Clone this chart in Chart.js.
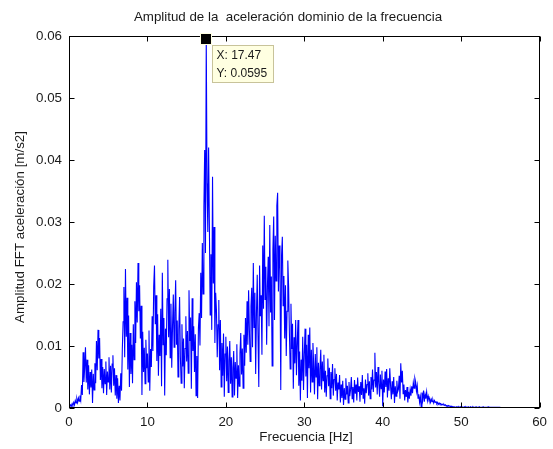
<!DOCTYPE html>
<html>
<head>
<meta charset="utf-8">
<title>Amplitud FFT</title>
<script src="https://cdn.jsdelivr.net/npm/chart.js"></script>
<style>
  html, body { margin: 0; padding: 0; background: #fff; }
  canvas { display: block; }
</style>
</head>
<body>
<canvas id="fftChart" width="553" height="449"></canvas>
<script>
// spectrum: one value every 0.1 Hz starting at 0 Hz, in 1e-3 m/s2
const freqStart = 0;
const freqStep = 0.1;
const ampMilli = [
  0.3,0.2,0.5,0.3,0.7,0.4,0.9,0.5,1.2,0.8,
  1.5,0.9,1.6,1.1,2.0,1.3,3.7,2.1,9.0,4.2,
  6.5,9.8,4.1,7.8,3.0,6.9,2.2,5.8,3.3,6.2,
  0.8,5.5,2.9,7.2,4.0,10.8,6.1,12.6,8.0,11.3,
  4.5,7.9,3.2,6.6,2.4,6.3,3.9,7.5,2.1,5.9,
  4.2,8.2,3.0,6.8,2.5,7.1,8.5,3.6,6.4,2.0,
  5.3,1.5,4.8,0.8,3.6,1.2,5.6,2.8,9.5,13.9,
  19.5,8.2,22.4,11.5,17.8,6.2,14.9,3.4,12.1,5.5,
  10.2,4.0,13.5,7.8,17.2,10.5,20.3,13.8,23.4,15.6,
  19.8,11.2,16.5,2.1,12.3,5.8,9.7,3.9,11.0,6.4,
  8.8,4.2,12.5,2.8,9.5,6.6,14.8,9.2,19.6,23.0,
  13.5,18.2,7.6,15.1,5.2,11.8,8.4,16.0,3.5,21.8,
  10.2,14.5,2.0,12.8,8.5,17.6,23.9,11.4,19.2,8.1,
  16.8,6.5,13.2,18.3,9.8,15.4,20.6,10.2,14.1,5.0,
  12.6,17.9,8.3,4.0,13.5,6.7,11.2,3.2,9.6,14.8,
  7.5,12.4,5.6,19.0,10.8,14.6,3.1,17.7,9.2,13.2,
  5.8,11.9,2.0,8.4,1.6,12.8,15.3,10.1,21.8,14.5,
  26.6,18.4,32.5,41.6,25.0,59.5,36.2,28.4,42.0,29.2,
  15.0,24.8,12.6,37.3,20.1,29.2,10.5,18.6,15.8,8.2,
  13.4,17.4,6.1,14.2,3.4,10.5,5.2,12.0,1.8,8.7,
  11.5,4.3,9.9,2.5,7.6,10.8,3.9,8.2,1.8,6.5,
  9.2,2.0,7.4,4.8,10.3,1.6,6.9,3.5,8.8,12.1,
  5.4,9.6,3.2,11.8,6.8,14.5,8.9,17.2,10.2,19.0,
  12.6,7.5,16.4,19.4,9.8,23.4,13.0,18.6,5.5,15.2,
  21.5,11.4,3.4,23.0,14.8,18.2,8.6,26.2,16.0,31.0,
  17.5,22.8,10.2,19.6,24.4,13.2,29.5,15.4,21.2,6.8,
  25.6,30.9,14.2,27.8,20.5,32.6,34.7,18.8,26.2,22.4,
  2.9,24.6,27.6,16.5,21.3,11.2,19.8,8.4,15.6,23.8,
  19.5,12.2,6.3,16.8,9.5,13.6,3.1,11.4,7.2,14.2,
  5.3,10.6,14.2,3.6,9.1,1.2,7.8,4.4,11.5,2.9,
  8.6,12.8,5.1,10.2,1.6,11.8,6.4,13.0,2.5,9.4,
  4.2,10.5,6.8,2.2,8.7,5.0,9.8,1.4,7.3,3.6,
  6.2,9.4,3.0,7.5,4.4,8.6,2.5,6.0,1.8,5.2,
  8.0,3.5,6.5,1.5,5.8,3.2,7.1,2.0,4.6,6.4,
  2.8,5.5,1.2,4.1,3.0,5.3,0.9,3.8,1.6,4.4,
  0.5,3.2,1.4,4.8,2.2,3.6,0.8,4.2,1.9,3.0,
  5.0,1.5,3.4,0.9,4.5,2.3,3.8,1.2,4.9,2.6,
  3.5,1.0,4.2,2.1,5.3,1.6,3.2,0.7,4.6,2.4,
  3.8,5.6,2.0,4.3,1.5,5.0,3.0,6.2,2.6,4.5,
  8.9,3.3,5.8,2.2,6.6,4.0,1.8,5.4,3.1,6.0,
  0.3,4.6,2.5,5.9,3.4,6.3,1.7,4.8,2.8,6.4,
  3.6,1.4,4.3,2.2,5.0,0.8,3.5,1.9,4.4,2.6,
  3.0,5.2,1.5,7.2,4.1,6.0,2.3,3.8,1.2,2.9,
  1.8,3.4,0.9,2.6,1.5,3.0,2.0,3.5,2.4,4.1,
  3.2,4.8,4.2,2.7,3.6,1.6,2.2,0.9,1.8,0.2,
  2.5,1.4,2.8,1.0,2.2,1.5,2.6,1.2,1.9,1.3,
  1.5,0.9,1.4,1.0,1.3,0.8,1.2,0.9,1.0,0.7,
  0.9,0.6,0.8,0.6,0.7,0.5,0.6,0.5,0.6,0.4,
  0.5,0.3,0.4,0.3,0.4,0.3,0.3,0.2,0.3,0.2,
  0.2,0.2,0.2,0.1,0.2,0.2,0.1,0.2,0.1,0.2,
  0.1,0.2,0.1,0.1,0.2,0.1,0.2,0.1,0.1,0.2,
  0.1,0.1,0.2,0.1,0.1,0.2,0.1,0.1,0.1,0.2,
  0.1,0.1,0.1,0.2,0.1,0.1,0.1,0.1,0.2,0.1,
  0.1,0.1,0.1,0.1,0.1,0.2,0.1,0.1,0.1,0.1,
  0.1,0.1,0.1,0.1,0.1,0.1,0.1,0.1,0.1,0.1,
  0.1
];
const xTicks = [0, 10, 20, 30, 40, 50, 60];
const yTicks = [0, 0.01, 0.02, 0.03, 0.04, 0.05, 0.06];
// data tip shown on the peak
const tipX = 17.47;
const tipY = 0.0595;

const FONT = 'Liberation Sans';
const FSIZE = 13.33;
const TXT = '#1a1a1a';

const points = ampMilli.map((a, i) => ({
  x: +(freqStart + i * freqStep).toFixed(2),
  y: a / 1000
}));

const frame = {
  id: 'frame',
  afterDraw(chart) {
    const ctx = chart.ctx;
    const a = chart.chartArea;
    const xs = chart.scales.x, ys = chart.scales.y;
    const L = Math.round(a.left) + 0.5, R = Math.round(a.right) - 0.5;
    const T = Math.round(a.top) + 0.5, B = Math.round(a.bottom) - 0.5;
    ctx.save();
    ctx.strokeStyle = '#000';
    ctx.lineWidth = 1;
    ctx.strokeRect(L, T, R - L, B - T);
    ctx.beginPath();
    const tl = 5;
    xTicks.forEach(v => {
      const px = Math.round(xs.getPixelForValue(v)) + 0.5;
      ctx.moveTo(px, B); ctx.lineTo(px, B - tl);
      ctx.moveTo(px, T); ctx.lineTo(px, T + tl);
    });
    yTicks.forEach(v => {
      const py = Math.round(ys.getPixelForValue(v)) + 0.5;
      ctx.moveTo(L, py); ctx.lineTo(L + tl, py);
      ctx.moveTo(R, py); ctx.lineTo(R - tl, py);
    });
    ctx.stroke();

    // titles
    ctx.fillStyle = TXT;
    ctx.font = FSIZE + 'px "' + FONT + '"';
    ctx.textAlign = 'center';
    ctx.textBaseline = 'middle';
    ctx.fillText('Amplitud de la  aceleración dominio de la frecuencia', 288, 17);
    ctx.fillText('Frecuencia [Hz]', 306, 437);
    ctx.save();
    ctx.translate(20, 227);
    ctx.rotate(-Math.PI / 2);
    ctx.fillText('Amplitud FFT aceleración [m/s2]', 0, 0);
    ctx.restore();

    // data tip
    const mx = xs.getPixelForValue(tipX), my = ys.getPixelForValue(tipY);
    const bx = Math.round(mx) + 6.5, by = Math.round(my) + 6.5;
    ctx.fillStyle = '#ffffe1';
    ctx.strokeStyle = '#c8c39a';
    ctx.fillRect(bx, by, 61, 37);
    ctx.strokeRect(bx, by, 61, 37);
    ctx.fillStyle = TXT;
    ctx.font = '12px "' + FONT + '"';
    ctx.textAlign = 'left';
    ctx.fillText('X: ' + tipX, bx + 4, by + 10);
    ctx.fillText('Y: ' + tipY, bx + 4, by + 28);
    ctx.fillStyle = '#000';
    ctx.strokeStyle = '#ffffe1';
    ctx.fillRect(Math.round(mx) - 5, Math.round(my) - 5, 10, 10);
    ctx.strokeRect(Math.round(mx) - 5.5, Math.round(my) - 5.5, 11, 11);
    ctx.restore();
  }
};

new Chart(document.getElementById('fftChart').getContext('2d'), {
  type: 'line',
  data: {
    datasets: [{
      data: points,
      borderColor: '#0000ff',
      borderWidth: 1.1,
      pointRadius: 0,
      tension: 0,
      fill: false
    }]
  },
  options: {
    responsive: false,
    animation: false,
    layout: { padding: { top: 36, right: 10, left: 0, bottom: 0 } },
    plugins: {
      legend: { display: false },
      tooltip: { enabled: false },
      title: { display: false }
    },
    scales: {
      x: {
        type: 'linear',
        min: 0,
        max: 60,
        afterBuildTicks: s => { s.ticks = xTicks.map(v => ({ value: v })); },
        afterFit: s => { s.height = 41; },
        grid: { display: false, drawTicks: false },
        border: { display: false },
        ticks: { padding: 6, maxRotation: 0, color: TXT, font: { family: FONT, size: FSIZE }, callback: v => String(v) }
      },
      y: {
        type: 'linear',
        min: 0,
        max: 0.06,
        afterBuildTicks: s => { s.ticks = yTicks.map(v => ({ value: v })); },
        afterFit: s => { s.width = 69; },
        grid: { display: false, drawTicks: false },
        border: { display: false },
        ticks: { padding: 7, color: TXT, font: { family: FONT, size: FSIZE }, callback: v => String(v) }
      }
    }
  },
  plugins: [frame]
});
</script>
</body>
</html>
